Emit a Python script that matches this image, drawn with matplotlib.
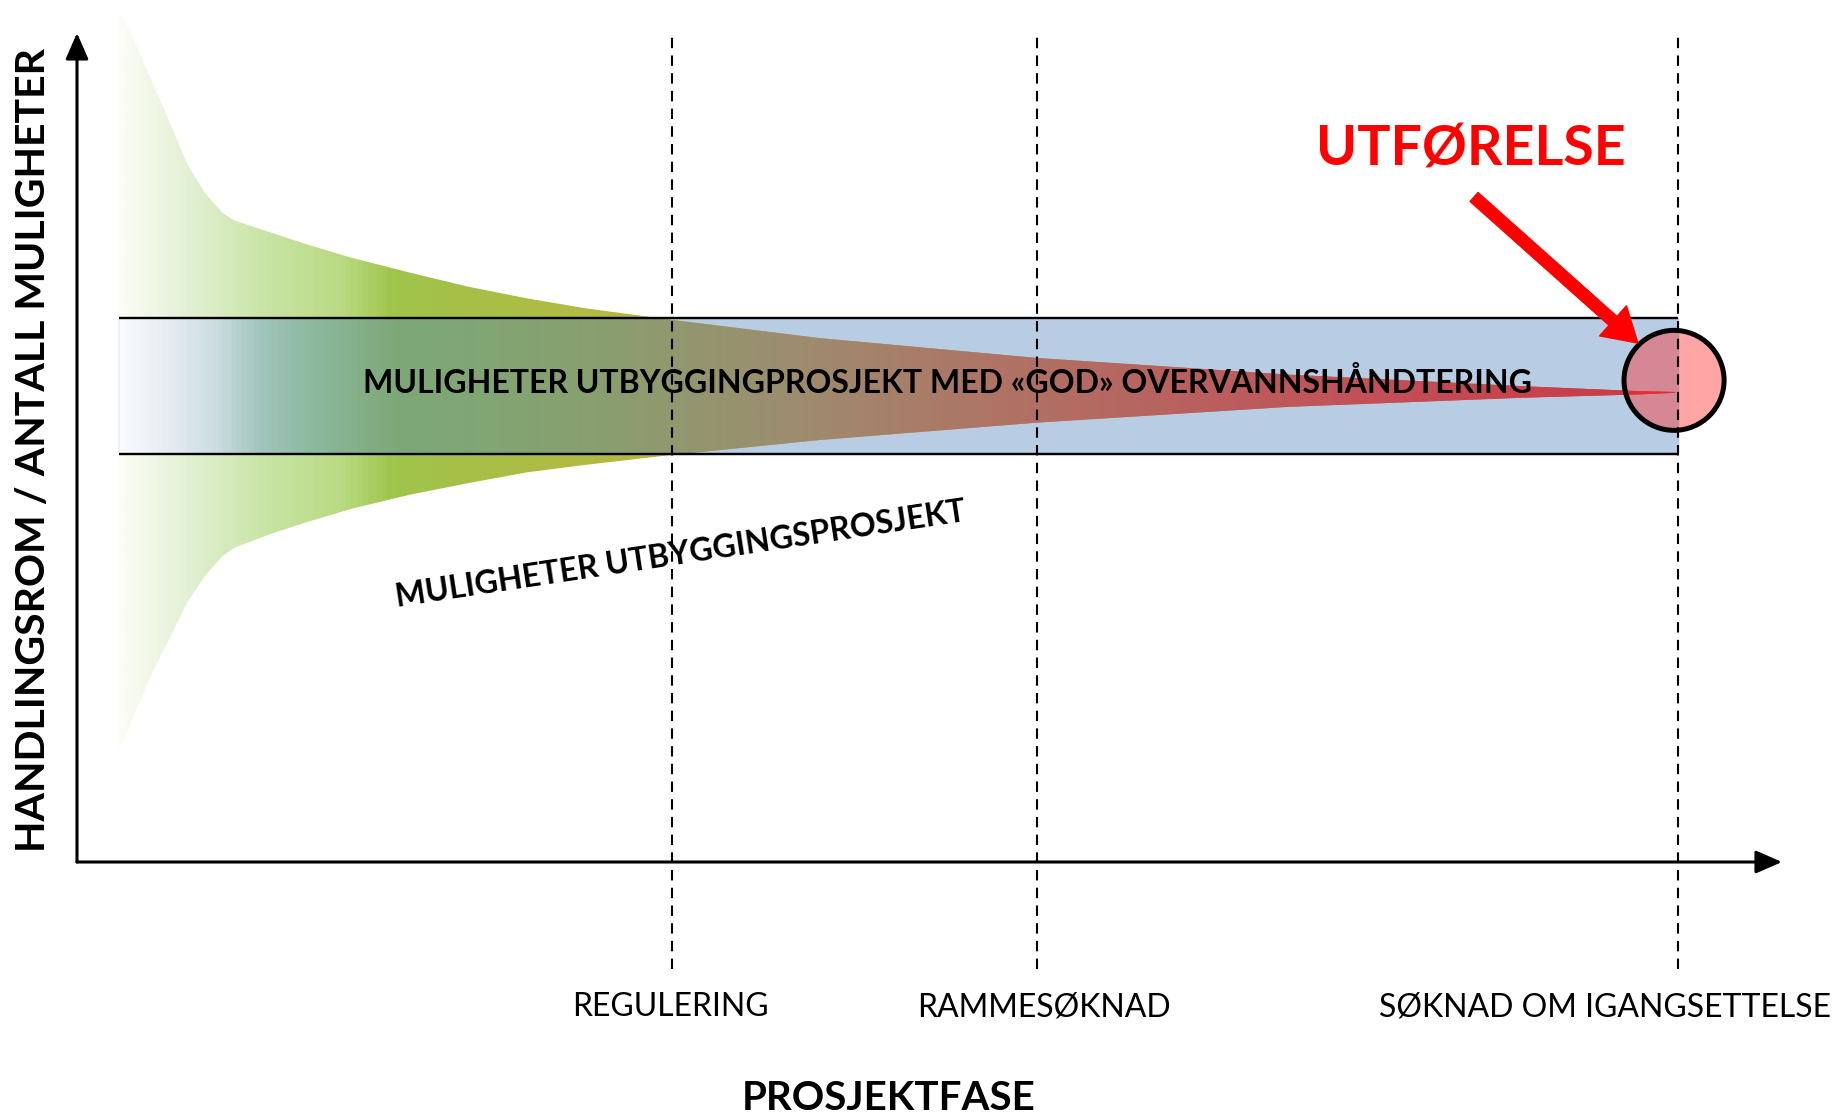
import numpy as np
import matplotlib.pyplot as plt
from matplotlib.colors import LinearSegmentedColormap
from matplotlib.patches import Polygon, Ellipse

plt.rcParams['font.family'] = ['Lato', 'DejaVu Sans']

# fasene langs x-aksen (0-100 = prosjektforløp)
phase_names = ['REGULERING', 'RAMMESØKNAD', 'SØKNAD OM IGANGSETTELSE']
phase_x = [34.9, 56.3, 93.9]
phase_label_x = [34.8, 56.7, 89.6]

# traktens øvre og nedre kant (antall muligheter)
funnel_x = [2.49, 3.38, 4.40, 5.44, 6.46, 7.50, 8.53, 9.22, 11.27, 13.33, 16.08,
            19.51, 22.94, 26.37, 29.80, 34.88, 43.53, 56.30, 71.00, 84.72, 91.59, 93.73]
funnel_top = [102.6, 99.0, 94.1, 89.2, 84.2, 80.7, 78.3, 77.4, 76.0, 74.6, 72.9,
              71.1, 69.4, 68.0, 66.8, 65.4, 63.2, 60.8, 58.8, 57.4, 56.8, 56.7]
funnel_bottom = [13.6, 17.9, 22.8, 27.0, 31.3, 34.5, 36.9, 37.9, 39.5, 40.9, 42.6,
                 44.3, 45.7, 47.0, 47.9, 49.1, 50.9, 53.0, 54.9, 56.0, 56.4, 56.6]

# båndet for "god" overvannshåndtering
band_start, band_end = 2.46, 93.9
band_low, band_high = 49.2, 65.6

# utførelse-punktet
goal_x, goal_y = 93.67, 58.1

# fargeovergang i trakten (utenfor og innenfor båndet)
outside_stops = [(2.46, '#fafcf5'), (6.46, '#e1f0d2'), (10.9, '#c8e4a5'), (15.4, '#b9da82'),
                 (18.3, '#a0c54b'), (22.1, '#a5c048'), (28.3, '#b0bc44'), (35.4, '#bab442'),
                 (93.9, '#c84040')]
inside_stops = [(2.46, '#f8fafd'), (5.5, '#e2eaf0'), (8.0, '#cadbe0'), (10.5, '#a2c5bc'),
                (13.0, '#8fbba4'), (18.6, '#7da878'), (24.4, '#82a573'), (31.1, '#8a9e6e'),
                (42.4, '#9e8c6e'), (54.1, '#af7364'), (65.9, '#ba5f5f'),
                (77.6, '#c34e56'), (93.9, '#cd3741')]


def make_cmap(name, stops):
    x0, x1 = stops[0][0], stops[-1][0]
    return LinearSegmentedColormap.from_list(
        name, [((p - x0) / (x1 - x0), c) for p, c in stops])


fig = plt.figure(figsize=(18.35, 11.18), dpi=100)
ax = fig.add_axes([0, 0, 1, 1])

# bånd
ax.fill_between([band_start, band_end], band_low, band_high, color='#b8cce4', zorder=1)
ax.hlines([band_low, band_high], band_start, band_end, colors='black', lw=1.7, zorder=4)

# trakt med fargeovergang
funnel = Polygon(np.column_stack([funnel_x + funnel_x[::-1], funnel_top + funnel_bottom[::-1]]),
                 closed=True, facecolor='none', edgecolor='none')
ax.add_patch(funnel)
grad = np.linspace(0, 1, 600).reshape(1, -1)
im1 = ax.imshow(grad, cmap=make_cmap('ut', outside_stops), aspect='auto', origin='lower',
                extent=[outside_stops[0][0], outside_stops[-1][0], min(funnel_bottom), max(funnel_top)],
                zorder=2)
im1.set_clip_path(funnel)
im2 = ax.imshow(grad, cmap=make_cmap('inn', inside_stops), aspect='auto', origin='lower',
                extent=[inside_stops[0][0], inside_stops[-1][0], band_low, band_high], zorder=3)
im2.set_clip_path(funnel)

# sirkel
ax.add_patch(Ellipse((goal_x, goal_y), 5.87, 12.06, facecolor=(1, 0.15, 0.15, 0.41),
                     edgecolor='black', lw=3.6, zorder=5))

# stiplede faselinjer
ax.vlines(phase_x, -12.9, 100, colors='black', lw=1.5, linestyles=(0, (5, 3.5)), zorder=6)

# akser med piler
ax.annotate('', xy=(100, 0), xytext=(0, 0), zorder=7,
            arrowprops=dict(arrowstyle='-|>,head_length=0.8,head_width=0.35', color='black',
                            lw=2.2, mutation_scale=20, shrinkA=0, shrinkB=0))
ax.annotate('', xy=(0, 100), xytext=(0, 0), zorder=7,
            arrowprops=dict(arrowstyle='-|>,head_length=0.8,head_width=0.35', color='black',
                            lw=2.2, mutation_scale=20, shrinkA=0, shrinkB=0))

# rød pil
ax.annotate('', xy=(91.55, 62.6), xytext=(81.94, 80.22), zorder=8,
            arrowprops=dict(arrowstyle='simple,head_length=1.2,head_width=1.45,tail_width=0.43',
                            color='red', mutation_scale=20, shrinkA=0, shrinkB=0))
ax.text(81.76, 85.9, 'UTFØRELSE', color='red', fontsize=40, fontweight='bold',
        ha='center', va='center', zorder=8)

# tekster
ax.text(51.08, 57.8, 'MULIGHETER UTBYGGINGPROSJEKT MED «GOD» OVERVANNSHÅNDTERING',
        fontsize=23, fontweight='bold', ha='center', va='center', zorder=8)
ax.text(35.43, 37.15, 'MULIGHETER UTBYGGINGSPROSJEKT', fontsize=23, fontweight='bold',
        rotation=8.6, rotation_mode='anchor', ha='center', va='center', zorder=8)

for name, lx in zip(phase_names, phase_label_x):
    ax.text(lx, -17.5, name, fontsize=23, ha='center', va='center')

ax.text(47.6, -28.5, 'PROSJEKTFASE', fontsize=29, fontweight='bold', ha='center', va='center')
ax.text(-2.58, 49.7, 'HANDLINGSROM / ANTALL MULIGHETER', fontsize=29.5, fontweight='bold',
        rotation=90, ha='center', va='center')

ax.set_xlim(-4.516, 103.11)
ax.set_ylim(-30.88, 103.98)
ax.axis('off')

fig.savefig('out.png', dpi=100)
